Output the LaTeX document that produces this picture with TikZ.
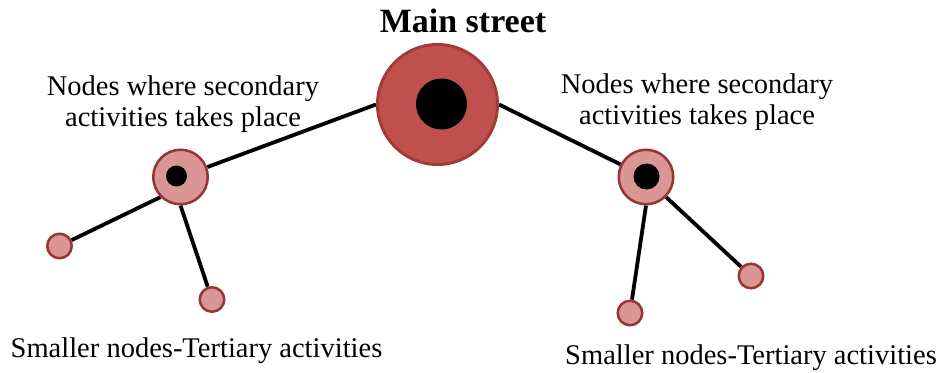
\documentclass[tikz,border=0pt]{standalone}
\usepackage{fontspec}
\setmainfont{Liberation Serif}
\usepackage{tikz}
\usetikzlibrary{shapes, backgrounds, calc}
\definecolor{mainred}{HTML}{C0504D}
\definecolor{mainedge}{HTML}{A23C39}
\definecolor{lightred}{HTML}{D99694}
\definecolor{darkedge}{HTML}{943634}
\tikzstyle{mainnode} = [
    circle,
    fill = mainred,
    draw = mainedge,
    line width = 3pt,
    minimum size = 120pt,
    inner sep = 0pt,
]
\tikzstyle{secnode} = [
    circle,
    fill = lightred,
    draw = darkedge,
    line width = 2.5pt,
    minimum size = 54.5pt,
    inner sep = 0pt,
]
\tikzstyle{smallnode} = [
    circle,
    fill = lightred,
    draw = darkedge,
    line width = 2.5pt,
    minimum size = 24.5pt,
    inner sep = 0pt,
]
\tikzstyle{core} = [circle, fill = black, inner sep = 0pt]
\tikzstyle{link} = [draw = black, line width = 3.8pt]
\tikzstyle{caption} = [align = center, inner sep = 0pt, font = \fontsize{28.5}{31}\selectfont]

\begin{document}
\begin{tikzpicture} [x = 1pt, y = -1pt]
    \useasboundingbox (0, 0) rectangle (939, 372);

    \node (Main) [mainnode] at (437.5, 104.5) {};
    \node (MainCore) [core, minimum size = 51pt] at (441.5, 104) {};
    \node (Title) [anchor = base, font = \fontsize{34}{38}\selectfont\bfseries] at (463, 32) {Main street};

    \node (Left) [secnode] at (180.5, 177) {};
    \node (LeftCore) [core, minimum size = 21pt] at (176.5, 176) {};
    \node (Right) [secnode] at (646, 177) {};
    \node (RightCore) [core, minimum size = 26pt] at (646.5, 176.5) {};

    \node (LeftA) [smallnode] at (59.5, 246) {};
    \node (LeftB) [smallnode] at (212, 299.5) {};
    \node (RightA) [smallnode] at (630, 313) {};
    \node (RightB) [smallnode] at (751, 276) {};

    \node (LeftText) [caption] at (183, 104) {Nodes where secondary\\activities takes place};
    \node (RightText) [caption] at (697, 102) {Nodes where secondary\\activities takes place};
    \node (LeftBottom) [caption, anchor = base] at (196.5, 357) {Smaller nodes-Tertiary activities};
    \node (RightBottom) [caption, anchor = base] at (751, 364) {Smaller nodes-Tertiary activities};

    \begin{scope}[on background layer]
        \draw[link] (Left) -- (Main.west);
        \draw[link] (Main.east) -- (Right);
        \draw[link] (Left.225) -- (LeftA);
        \draw[link] (Left.south) -- (LeftB);
        \draw[link] (Right.south) -- (RightA);
        \draw[link] (Right.-45) -- (RightB);
    \end{scope}
\end{tikzpicture}
\end{document}
